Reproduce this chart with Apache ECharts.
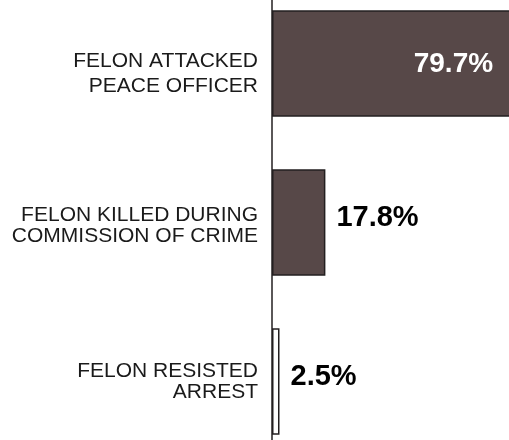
<!DOCTYPE html>
<html>
<head>
<meta charset="UTF-8">
<title></title>
<script src="https://cdn.jsdelivr.net/npm/echarts@6/dist/echarts.min.js"></script>
<style>
  html, body { margin: 0; padding: 0; background: #fff; }
  #main { width: 509px; height: 440px; }
</style>
</head>
<body>
<div id="main"></div>
<script>
var categories = ['FELON ATTACKED\nPEACE OFFICER', 'FELON KILLED DURING\nCOMMISSION OF CRIME', 'FELON RESISTED\nARREST'];
var values = [79.7, 17.8, 2.5];
var fills = ['#574848', '#574848', '#ffffff'];
var labelColors = ['#ffffff', '#000000', '#000000'];

var myChart = echarts.init(document.getElementById('main'));

var option = {
  animation: false,
  grid: { left: 272, right: 0, top: -16, height: 477, outerBoundsMode: 'none' },
  xAxis: {
    type: 'value',
    min: 0,
    max: 79,
    show: false
  },
  yAxis: {
    type: 'category',
    inverse: true,
    data: categories.map(function (c, i) {
      return i === 0 ? { value: c, textStyle: { lineHeight: 25 } } : c;
    }),
    axisLine: { show: true, lineStyle: { color: '#231f20', width: 1.5 } },
    axisTick: { show: false },
    axisLabel: {
      margin: 14,
      fontFamily: 'Liberation Sans, Arial, sans-serif',
      fontSize: 21,
      lineHeight: 21,
      color: '#1a1a1a',
      align: 'right',
      // spacer lines nudge the first two labels down a little
      formatter: function (v, i) {
        if (i === 0) return '{a| }\n' + v;
        if (i === 1) return '{b| }\n' + v;
        return v;
      },
      rich: {
        a: { fontSize: 1, lineHeight: 20, height: 20 },
        b: { fontSize: 1, lineHeight: 6, height: 6 }
      }
    }
  },
  series: [{
    type: 'bar',
    clip: false,
    barCategoryGap: '33%',
    data: values.map(function (v, i) {
      return {
        value: v,
        itemStyle: { color: fills[i], borderColor: '#231f20', borderWidth: 1.5 },
        label: i === 0
          ? { position: 'insideRight', distance: 18, color: labelColors[i], fontSize: 28, offset: [0, 1] }
          : { position: 'right', distance: 11, color: labelColors[i], offset: [0, -5] }
      };
    }),
    label: {
      show: true,
      fontFamily: 'Liberation Sans, Arial, sans-serif',
      fontWeight: 'bold',
      fontSize: 29,
      formatter: function (p) { return p.value + '%'; }
    }
  }]
};
myChart.setOption(option);
</script>
</body>
</html>
